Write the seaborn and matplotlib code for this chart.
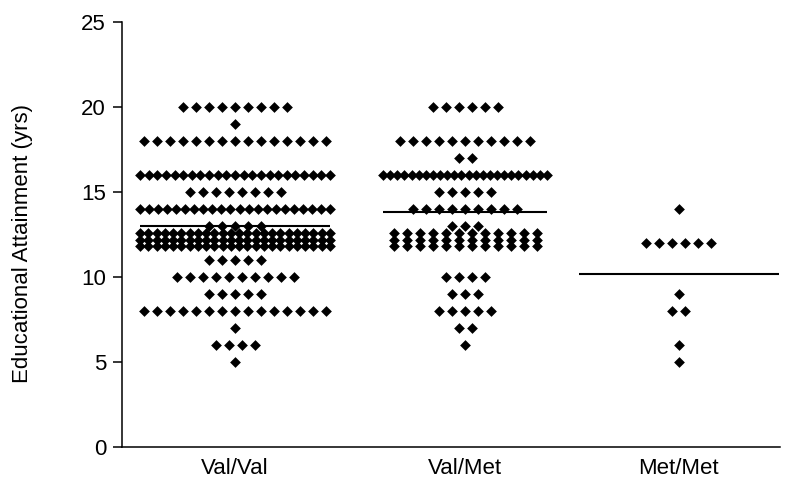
import numpy as np
import pandas as pd
import matplotlib
matplotlib.use("Agg")
import matplotlib.pyplot as plt
import seaborn as sns

groups = ["Val/Val", "Val/Met", "Met/Met"]

# years of education and how many subjects sit on each value
valval_years = [20, 19, 18, 16, 15, 14, 13, 12, 11, 10, 9, 8, 7, 6, 5]
valval_counts = [9, 1, 15, 23, 8, 22, 5, 72, 5, 10, 5, 15, 1, 4, 1]
valmet_years = [20, 18, 17, 16, 15, 14, 13, 12, 10, 9, 8, 7, 6]
valmet_counts = [6, 11, 2, 24, 5, 9, 3, 36, 4, 3, 5, 2, 1]
metmet_years = [14, 12, 9, 8, 6, 5]
metmet_counts = [1, 6, 1, 2, 1, 1]

y_ticks = [0, 5, 10, 15, 20, 25]

# layout in "pixels" of the 800px wide figure, converted to x units below
PX = 1 / 230
centers = {"Val/Val": 0.0, "Val/Met": 1.0, "Met/Met": 1.93}
spread_half = {"Val/Val": 95 * PX, "Val/Met": 82 * PX, "Met/Met": 95 * PX}
line_half = {"Val/Val": 95 * PX, "Val/Met": 82 * PX, "Met/Met": 100 * PX}
STEP = 13 * PX
MIN_STEP = 7 * PX


def prism_spread(group, years, counts):
    """Lay points of equal value side by side, stacking rows when they don't fit."""
    rows_out = []
    width = 2 * spread_half[group]
    for val, n in zip(years, counts):
        rows = 1 if (n - 1) * MIN_STEP <= width else 3
        cols = int(np.ceil(n / rows))
        sp = min(STEP, width / (cols - 1)) if cols > 1 else 0
        row_off = [0.0] if rows == 1 else [0.6, 0.2, -0.2]
        left = n
        for r in range(rows):
            m = min(cols, left)
            left -= m
            offs = (np.arange(m) - (m - 1) / 2) * sp
            for o in offs:
                rows_out.append({"group": group, "years": val,
                                 "x": centers[group] + o,
                                 "y": val + row_off[r]})
    return rows_out


records = []
records += prism_spread("Val/Val", valval_years, valval_counts)
records += prism_spread("Val/Met", valmet_years, valmet_counts)
records += prism_spread("Met/Met", metmet_years, metmet_counts)
df = pd.DataFrame(records)

sns.set_style("ticks")
plt.rcParams["font.family"] = ["Liberation Sans", "DejaVu Sans"]
plt.rcParams["text.color"] = "black"
plt.rcParams["axes.labelcolor"] = "black"
plt.rcParams["xtick.color"] = "black"
plt.rcParams["ytick.color"] = "black"

fig = plt.figure(figsize=(8, 4.92), dpi=100)
ax = fig.add_axes([122 / 800, 1 - 447 / 492, (780 - 122) / 800, (447 - 22) / 492])

sns.scatterplot(data=df, x="x", y="y", marker="D", color="black", s=30,
                linewidth=0, ax=ax, legend=False)

means = df.groupby("group")["years"].mean()
for g in groups:
    c = centers[g]
    ax.hlines(means[g], c - line_half[g], c + line_half[g], color="black", lw=1.5)

ax.set_xlim((122 - 235) * PX, (780 - 235) * PX)
ax.set_ylim(0, 25)
ax.set_xticks([centers[g] for g in groups])
ax.set_xticklabels(groups)
ax.set_yticks(y_ticks)
ax.tick_params(axis="x", length=0, pad=8, labelsize=16)
ax.tick_params(axis="y", length=6.5, width=1.1, pad=5, labelsize=16)
ax.set_xlabel("")
ax.set_ylabel("Educational Attainment (yrs)", fontsize=16)
ax.yaxis.set_label_coords(-0.135, 0.48)
sns.despine(ax=ax)
for s in ["left", "bottom"]:
    ax.spines[s].set_linewidth(1.1)
    ax.spines[s].set_color("black")

fig.savefig("out.png", dpi=100)
